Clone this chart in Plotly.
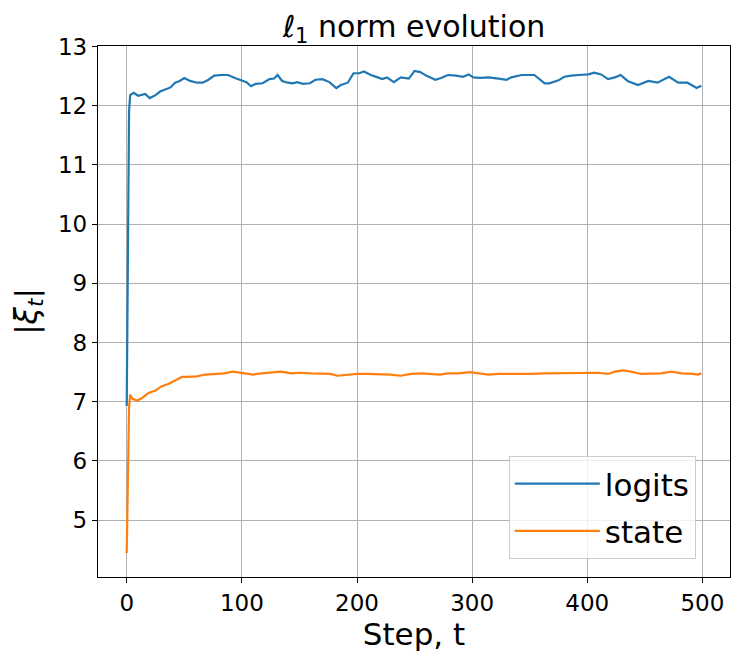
import plotly.graph_objects as go

# Data ---
logits_steps = [0, 1, 2, 3, 6, 10, 16, 20, 25, 29,
                33, 38, 42, 46, 50, 55, 61, 66, 71, 76,
                82, 88, 94, 100, 104, 108, 112, 118, 124, 128,
                131, 135, 140, 144, 148, 153, 159, 164, 170, 176,
                182, 186, 192, 197, 202, 206, 212, 218, 222, 226,
                232, 238, 245, 250, 255, 260, 268, 273, 279, 286,
                292, 297, 301, 307, 314, 323, 330, 334, 343, 354,
                359, 363, 367, 375, 380, 386, 393, 401, 406, 412,
                418, 424, 429, 435, 444, 453, 461, 471, 479, 487,
                495, 499]
logits_norm = [6.93, 10.5, 11.9, 12.18, 12.22, 12.17, 12.20, 12.13, 12.18, 12.24,
               12.27, 12.31, 12.39, 12.42, 12.47, 12.42, 12.39, 12.39, 12.44, 12.51,
               12.52, 12.52, 12.47, 12.42, 12.40, 12.33, 12.37, 12.38, 12.45, 12.46,
               12.52, 12.42, 12.39, 12.38, 12.40, 12.37, 12.38, 12.44, 12.45, 12.40,
               12.30, 12.35, 12.39, 12.55, 12.55, 12.58, 12.52, 12.48, 12.45, 12.48,
               12.40, 12.48, 12.46, 12.59, 12.57, 12.51, 12.44, 12.47, 12.52, 12.51,
               12.49, 12.53, 12.48, 12.47, 12.48, 12.46, 12.44, 12.48, 12.52, 12.52,
               12.44, 12.38, 12.38, 12.43, 12.49, 12.51, 12.52, 12.53, 12.56, 12.53,
               12.45, 12.48, 12.52, 12.42, 12.35, 12.42, 12.39, 12.49, 12.39, 12.39,
               12.30, 12.34]

state_steps = [0, 1, 2, 3, 5, 9, 13, 19, 25, 30,
               36, 42, 48, 53, 61, 68, 76, 85, 92, 101,
               110, 117, 125, 134, 143, 151, 160, 172, 177, 183,
               192, 200, 209, 221, 229, 238, 247, 256, 265, 272,
               279, 288, 298, 307, 314, 323, 331, 340, 351, 363,
               375, 386, 398, 409, 418, 424, 431, 438, 447, 456,
               464, 473, 482, 492, 496, 499]
state_norm = [4.445, 6.0, 6.9, 7.12, 7.05, 7.02, 7.06, 7.15, 7.19, 7.26,
              7.30, 7.36, 7.42, 7.42, 7.43, 7.46, 7.47, 7.48, 7.51, 7.49,
              7.46, 7.48, 7.49, 7.51, 7.48, 7.49, 7.48, 7.48, 7.47, 7.44,
              7.46, 7.47, 7.47, 7.47, 7.46, 7.44, 7.47, 7.48, 7.47, 7.46,
              7.48, 7.48, 7.50, 7.48, 7.46, 7.47, 7.47, 7.46, 7.47, 7.48,
              7.48, 7.49, 7.49, 7.49, 7.47, 7.51, 7.53, 7.51, 7.47, 7.47,
              7.48, 7.51, 7.48, 7.47, 7.46, 7.48]

x_ticks = [0, 100, 200, 300, 400, 500]
y_ticks = [5, 6, 7, 8, 9, 10, 11, 12, 13]

FONT = "DejaVu Sans"

fig = go.Figure()
fig.add_trace(go.Scatter(x=logits_steps, y=logits_norm, name="logits", mode="lines",
                         line=dict(color="#1f77b4", width=2.2), legendgroup="a"))
fig.add_trace(go.Scatter(x=state_steps, y=state_norm, name="state", mode="lines",
                         line=dict(color="#ff7f0e", width=2.2), legendgroup="b"))

axis_style = dict(
    showgrid=True, gridcolor="#b0b0b0", gridwidth=1.2,
    showline=True, linecolor="black", linewidth=1.3, mirror=True,
    ticks="outside", ticklen=5, tickwidth=1.2, tickcolor="black",
    tickfont=dict(family=FONT, size=23, color="black"),
    zeroline=False,
)
fig.update_xaxes(
    range=[-24.95, 523.95], tickvals=x_ticks,
    title=dict(text="Step, t", font=dict(family=FONT, size=31, color="black"), standoff=2),
    **axis_style,
)
fig.update_yaxes(
    range=[4.04, 13.01], tickvals=y_ticks,
    title=dict(text="|<i>ξ</i><sub><i>t</i></sub>|", font=dict(family=FONT, size=31, color="black"), standoff=16),
    **axis_style,
)
# page body has an 8px margin, so the figure is a bit smaller than the window
fig.update_layout(
    width=739, height=654,
    margin=dict(l=87, r=17, t=38, b=85),
    plot_bgcolor="white", paper_bgcolor="white",
    title=dict(text="<i>ℓ</i><sub>1</sub> norm evolution", x=0.5, xref="paper",
               y=0.972, yanchor="middle", font=dict(family=FONT, size=30, color="black")),
    legend=dict(x=0.65, y=0.228, xanchor="left", yanchor="top",
                bgcolor="rgba(255,255,255,0.8)", bordercolor="#cccccc", borderwidth=1,
                font=dict(family=FONT, size=31, color="black"),
                itemwidth=85, traceorder="grouped", tracegroupgap=4),
    showlegend=True,
)

fig.write_html("out.html")
